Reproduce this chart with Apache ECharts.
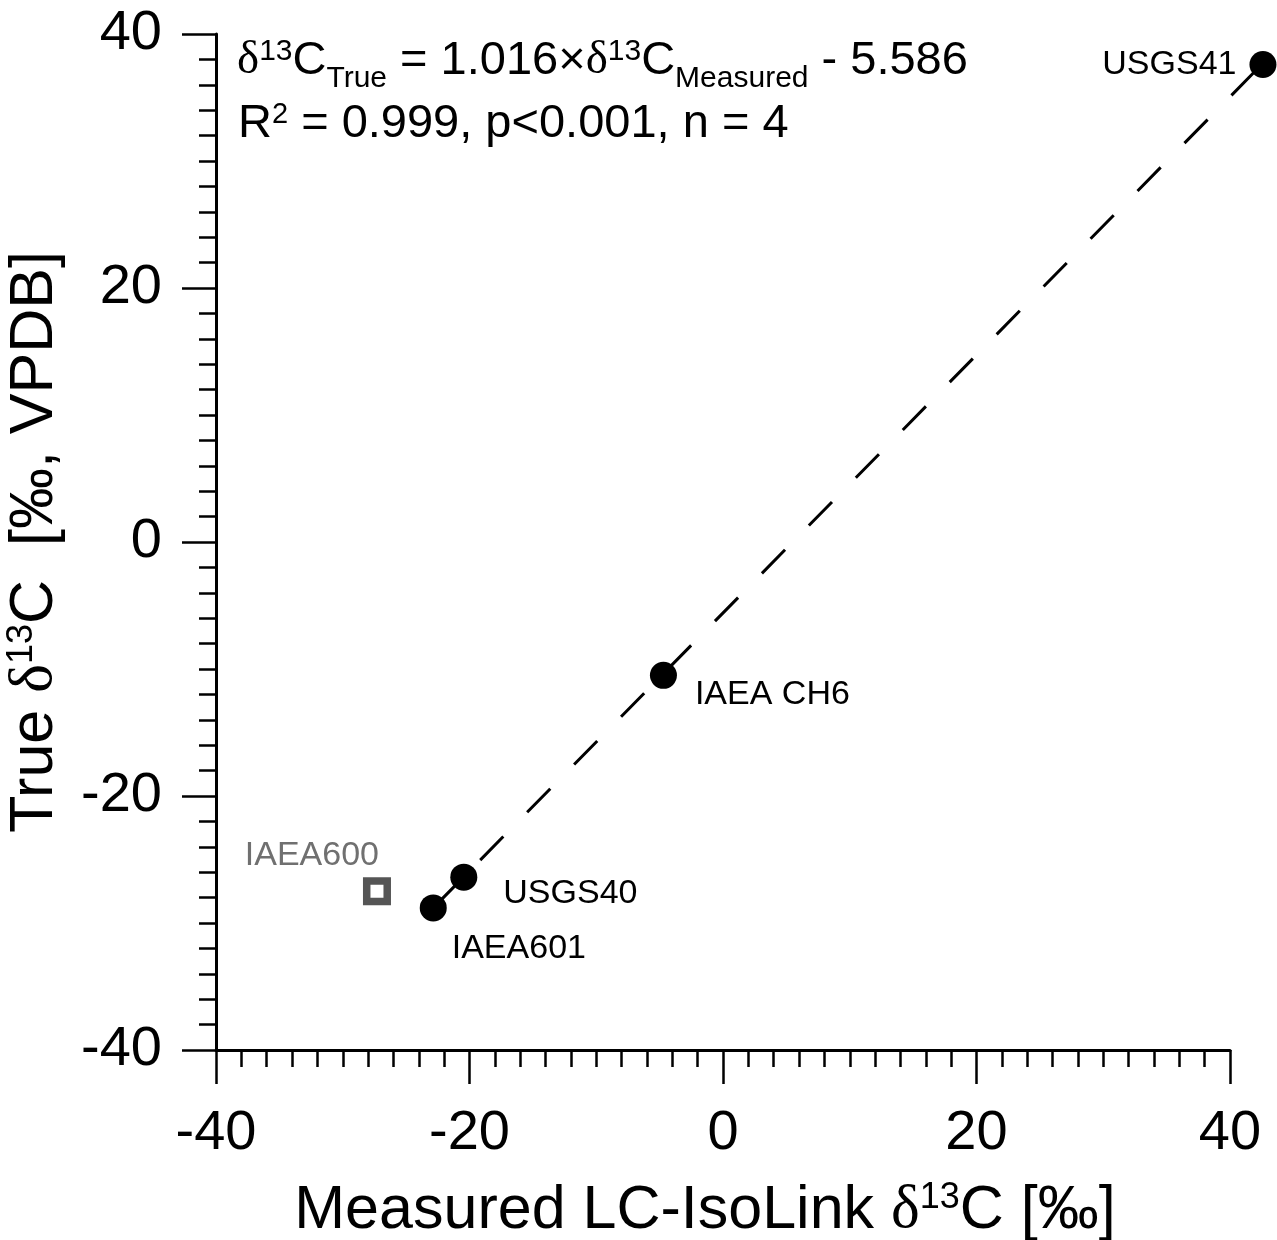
<!DOCTYPE html>
<html>
<head>
<meta charset="utf-8">
<script src="https://cdn.jsdelivr.net/npm/echarts@6/dist/echarts.min.js"></script>
<style>
  html, body { margin: 0; padding: 0; background: #fff; }
  #chart { width: 1277px; height: 1240px; }
</style>
</head>
<body>
<div id="chart"></div>
<script>
// Reference materials used for the calibration
const sampleNames = ['IAEA601', 'USGS40', 'IAEA CH6', 'USGS41'];
const measuredD13C = [-22.86, -20.45, -4.7, 42.6];
const trueD13C = [-28.81, -26.39, -10.5, 37.6];

// Material shown but left out of the regression
const excludedNames = ['IAEA600'];
const excludedMeasured = [-27.3];
const excludedTrue = [-27.5];

// Regression coefficients (as printed in the equation)
const fitSlope = 1.016;
const fitIntercept = -5.586;
const fitStats = { r2: '0.999', p: '<0.001', n: 4 };

// Axis ticks
const axisMin = -40, axisMax = 40, axisStep = 20;

const SANS = '"Liberation Sans", Arial, Helvetica, sans-serif';
const SERIF = '"Liberation Serif", "Times New Roman", serif';

// Regression line spanning the calibrated range
const xLo = Math.min(...measuredD13C), xHi = Math.max(...measuredD13C);
const fitSegment = [[xLo, fitSlope * xLo + fitIntercept, xHi, fitSlope * xHi + fitIntercept]];

function richSet(size, supSize, lh, supPad) {
  const base = { fontWeight: 'normal', color: '#000' };
  return {
    m: Object.assign({ fontSize: size, fontFamily: SANS, lineHeight: lh, verticalAlign: 'middle' }, base),
    d: Object.assign({ fontSize: size, fontFamily: SERIF, lineHeight: lh, verticalAlign: 'middle' }, base),
    sup: Object.assign({ fontSize: supSize, fontFamily: SANS, lineHeight: supSize, verticalAlign: 'top', padding: [supPad, 0, 0, 0] }, base),
    sub: Object.assign({ fontSize: supSize, fontFamily: SANS, lineHeight: supSize, verticalAlign: 'bottom' }, base)
  };
}

// Per-point label placement
const labelPlace = {
  'IAEA601': { position: [32, 54], align: 'left' },
  'USGS40': { position: [53, 30], align: 'left' },
  'IAEA CH6': { position: [45, 33], align: 'left' },
  'USGS41': { position: [-13, 14], align: 'right' },
  'IAEA600': { position: [16, -22], align: 'right' }
};

function pointLabel(name, color) {
  return Object.assign({
    show: true, formatter: '{b}', verticalAlign: 'middle',
    fontSize: 34, fontFamily: SANS, color: color, opacity: 1
  }, labelPlace[name]);
}

const calData = sampleNames.map((n, i) => ({
  name: n,
  value: [measuredD13C[i], trueD13C[i]],
  label: pointLabel(n, '#000')
}));
const excData = excludedNames.map((n, i) => ({
  name: n,
  value: [excludedMeasured[i], excludedTrue[i]],
  label: pointLabel(n, '#707070')
}));

const axisCommon = {
  type: 'value',
  min: axisMin,
  max: axisMax,
  interval: axisStep,
  splitLine: { show: false },
  axisLine: { show: true, onZero: false, lineStyle: { color: '#000', width: 3 } },
  axisTick: { show: true, inside: false, length: 34, lineStyle: { color: '#000', width: 2.5 } },
  minorTick: { show: true, splitNumber: 10, length: 17, lineStyle: { color: '#000', width: 2.5 } },
  minorSplitLine: { show: false }
};

const chart = echarts.init(document.getElementById('chart'), null, { renderer: 'canvas' });
chart.setOption({
  backgroundColor: '#fff',
  animation: false,
  grid: { left: 216, top: 34, width: 1014, height: 1016, containLabel: false, outerBoundsMode: 'none' },
  title: [
    {
      left: 237, top: 28, padding: 0,
      text: '{d|δ}{sup|13}{m|C}{sub|True}{m| = ' + fitSlope.toFixed(3) + '×}{d|δ}{sup|13}{m|C}{sub|Measured}{m| - ' + Math.abs(fitIntercept).toFixed(3) + '}',
      textStyle: { fontWeight: 'normal', rich: richSet(47, 30, 66, 9) }
    },
    {
      left: 238, top: 91, padding: 0,
      text: '{m|R}{sup|2}{m| = ' + fitStats.r2 + ', p' + fitStats.p + ', n = ' + fitStats.n + '}',
      textStyle: { fontWeight: 'normal', rich: richSet(47, 29, 66, 9) }
    }
  ],
  xAxis: Object.assign({}, axisCommon, {
    position: 'bottom',
    axisLabel: { fontSize: 56, fontFamily: SANS, color: '#000', margin: 56 },
    name: 'Measured LC-IsoLink {d|δ}{sup|13}{m|C [‰]}',
    nameLocation: 'middle',
    nameGap: 126,
    nameTextStyle: {
      fontSize: 61, fontFamily: SANS, color: '#000', lineHeight: 70, padding: [0, 36, 0, 0],
      rich: richSet(61, 36, 70, 4)
    }
  }),
  yAxis: Object.assign({}, axisCommon, {
    position: 'left',
    axisLabel: { fontSize: 56, fontFamily: SANS, color: '#000', margin: 54 },
    name: '{m|True }{d|δ}{sup|13}{m|C  [‰, VPDB]}',
    nameLocation: 'middle',
    nameGap: 136,
    nameRotate: 90,
    nameTextStyle: {
      fontSize: 61, fontFamily: SANS, color: '#000', lineHeight: 70,
      rich: richSet(61, 36, 70, 4)
    }
  }),
  series: [
    {
      // dashed regression line, drawn beyond the axis frame where needed
      type: 'custom',
      coordinateSystem: 'cartesian2d',
      clip: false,
      silent: true,
      z: 1,
      data: fitSegment,
      encode: { x: [0, 2], y: [1, 3] },
      renderItem: function (params, api) {
        const p1 = api.coord([api.value(0), api.value(1)]);
        const p2 = api.coord([api.value(2), api.value(3)]);
        return {
          type: 'line',
          shape: { x1: p1[0], y1: p1[1], x2: p2[0], y2: p2[1] },
          style: { stroke: '#000', lineWidth: 3, lineDash: [33, 34], fill: null }
        };
      }
    },
    {
      type: 'scatter',
      data: calData,
      symbol: 'circle',
      symbolSize: 27,
      clip: false,
      z: 3,
      itemStyle: { color: '#000', opacity: 1 }
    },
    {
      type: 'scatter',
      data: excData,
      symbol: 'rect',
      symbolSize: 20.5,
      clip: false,
      z: 3,
      itemStyle: { color: '#fff', borderColor: '#555', borderWidth: 7.5, opacity: 1 }
    }
  ]
});
</script>
</body>
</html>
